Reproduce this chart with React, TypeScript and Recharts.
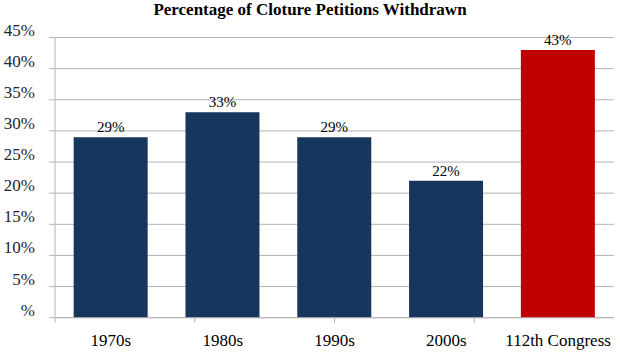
import { Bar, BarChart, CartesianGrid, Cell, LabelList, XAxis, YAxis } from "recharts";

const categories = ["1970s", "1980s", "1990s", "2000s", "112th Congress"];
const withdrawnPct = [29, 33, 29, 22, 43];
const yTicks = [0, 5, 10, 15, 20, 25, 30, 35, 40, 45];
const bandEdges = [0, 1, 2, 3, 4, 5];

const data = categories.map((name, i) => ({ name, pct: withdrawnPct[i] }));

const COLORS = ["#17365d", "#17365d", "#17365d", "#17365d", "#c00000"];
const FONT = '"Liberation Serif", "Times New Roman", serif';
const GRID = "#b4b4b4";

const YTick = ({ x, y, payload }: any) => (
  <text x={x} y={y - 2} textAnchor="end" style={{ fontFamily: FONT, fontSize: 17 }} fill="#262626">
    {payload.value === 0 ? "%" : `${payload.value}%`}
  </text>
);

const CatTick = ({ x, y, payload }: any) => (
  <text x={x} y={y + 22.6} textAnchor="middle" style={{ fontFamily: FONT, fontSize: 17 }} fill="#000">
    {payload.value}
  </text>
);

export default function App() {
  return (
    <div style={{ position: "fixed", left: 0, top: 0, width: 620, height: 354, background: "#fff", fontFamily: FONT }}>
      <div
        style={{
          position: "absolute",
          top: 0,
          left: 0,
          width: 620,
          textAlign: "center",
          fontWeight: "bold",
          fontSize: 17,
          lineHeight: "20px",
          color: "#000",
        }}
      >
        Percentage of Cloture Petitions Withdrawn
      </div>
      <BarChart width={620} height={354} data={data} margin={{ top: 37.5, right: 6, left: 0, bottom: 0.3 }} barCategoryGap="16.7%">
        <CartesianGrid vertical={false} stroke={GRID} />
        <XAxis xAxisId="cat" dataKey="name" height={30} axisLine={false} tickLine={false} tickSize={0} tickMargin={0} tick={<CatTick />} interval={0} />
        <XAxis
          xAxisId="bandEdges"
          type="number"
          domain={[0, 5]}
          ticks={bandEdges}
          allowDataOverflow
          height={6}
          tickSize={5}
          stroke={GRID}
          tick={() => <g />}
        />
        <YAxis
          width={55}
          domain={[0, 45]}
          ticks={yTicks}
          tickSize={6}
          tickMargin={14}
          stroke={GRID}
          tick={<YTick />}
          interval={0}
        />
        <Bar xAxisId="cat" dataKey="pct" isAnimationActive={false}>
          {data.map((_, i) => (
            <Cell key={i} fill={COLORS[i]} />
          ))}
          <LabelList
            dataKey="pct"
            position="top"
            offset={5}
            formatter={(v: any) => `${v}%`}
            style={{ fontFamily: FONT, fontSize: 15, fill: "#000" }}
          />
        </Bar>
      </BarChart>
    </div>
  );
}
